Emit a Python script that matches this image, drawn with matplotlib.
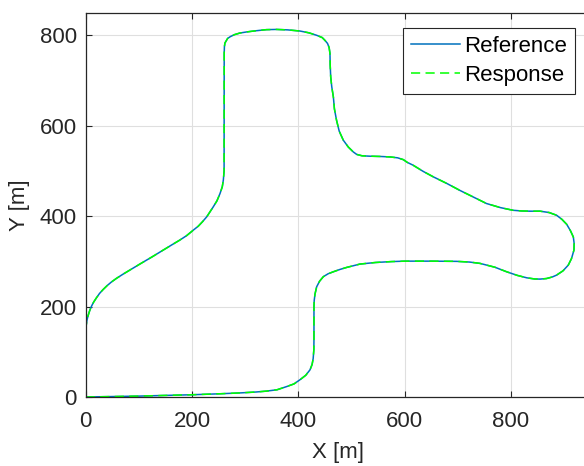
import matplotlib
matplotlib.use("Agg")
import matplotlib.pyplot as plt

# Track path (closed loop)
x_ref = [0, 50, 100, 150, 200, 250, 290, 320, 340, 360, 378, 392, 403, 414, 422, 426, 428, 429.3, 429.5, 429.5,
         430, 431.5, 434.6, 440, 447, 456, 466, 478, 491, 516, 545, 575, 601, 650, 698, 722, 742,
         770, 792, 812, 830, 845, 855, 867, 878, 886, 898, 908, 914, 918.7, 919, 917.5, 912, 905, 896,
         886, 872, 855, 836, 820, 804, 780, 754, 730, 704, 680, 654, 635, 616, 605, 597.6, 587, 572.5, 555,
         535, 520, 510, 503.5, 494, 484.7, 477, 472, 468, 466, 463, 461, 460, 459.6, 458, 455, 450, 445,
         434.6, 420, 403, 380, 359, 340, 320, 303, 290, 280, 272, 267, 265, 262, 261, 260.6, 260.6,
         260.6, 260.4, 259, 257, 252.7, 247, 240, 233, 227.7, 220, 212, 202.4, 190, 177, 162, 146, 125,
         104, 83, 70, 58, 48, 40, 33, 26, 20, 15, 11, 7.5, 4.5, 2.4, 1, 0.3, 0, 0, 0, 0]
y_ref = [0, 1, 2, 3.5, 5, 7, 9, 11, 13, 16, 23, 29, 38, 48, 60, 72, 85, 105, 130, 200,
         214, 228, 243.8, 256, 266, 272.5, 277, 282, 286.6, 294, 297.5, 299.5, 300.5, 300.5, 300, 298.5, 295.5,
         287, 277, 269, 263.6, 261, 260.8, 262, 265.5, 269.6, 279, 291.7, 306, 325, 340, 354, 368, 382, 393,
         402, 408, 411, 411, 411.5, 413, 419, 428, 442, 457, 472, 487, 499, 512.7, 519, 525, 529, 531, 532,
         532.6, 533.5, 536.5, 542, 553, 568, 588, 612, 637, 663.6, 686, 708, 735, 760, 773, 782, 789, 795,
         800, 805.5, 809.5, 812, 813, 812.5, 810, 807.5, 805, 801.5, 797, 793, 789, 783, 775, 760, 700,
         600, 500, 480, 465, 450, 434, 420.6, 408, 398.5, 388, 378, 369, 357, 347, 336.5, 325, 310,
         295.5, 280.7, 271.5, 262.5, 254, 246, 238, 229, 219, 210, 201, 191, 180, 170, 159, 148, 135, 100, 50, 0]
x_resp = list(x_ref)
y_resp = list(y_ref)

plt.rcParams['font.family'] = ['Liberation Sans', 'DejaVu Sans']
fig = plt.figure(figsize=(5.84, 4.66), dpi=100)
x0, x1, ytop, ybot = 85.7, 590.6, 12.7, 397.0
ax = fig.add_axes([x0/584, 1-ybot/466, (x1-x0)/584, (ybot-ytop)/466])

ax.plot(x_ref, y_ref, color='#0072BD', lw=1.1, label='Reference')
ax.plot(x_resp, y_resp, color='#00FF00', lw=1.1, ls=(0, (6, 3.5)), label='Response')

ax.set_xlim(0, 950)
ax.set_ylim(0, 850)
ax.set_xticks([0, 200, 400, 600, 800])
ax.set_yticks([0, 200, 400, 600, 800])
ax.grid(True, color='#dfdfdf', lw=0.8)
ax.set_axisbelow(True)
ax.tick_params(direction='in', top=True, right=True, labelsize=16, colors='#262626', length=4.5)
ax.tick_params(axis='x', pad=10)
ax.tick_params(axis='y', pad=6.5)
for s in ax.spines.values():
    s.set_color('#262626')
    s.set_linewidth(0.9)
ax.set_xlabel('X [m]', fontsize=16, color='#262626', labelpad=7)
ax.set_ylabel('Y [m]', fontsize=16, color='#262626', labelpad=7)

leg = ax.legend(loc='upper right', fontsize=16, frameon=True, fancybox=False,
                edgecolor='#262626', framealpha=1, borderaxespad=0.68, handlelength=2.2,
                borderpad=0.36, labelspacing=0.38, handletextpad=0.22)
leg.get_frame().set_linewidth(0.8)

fig.savefig('out.png', dpi=100)
